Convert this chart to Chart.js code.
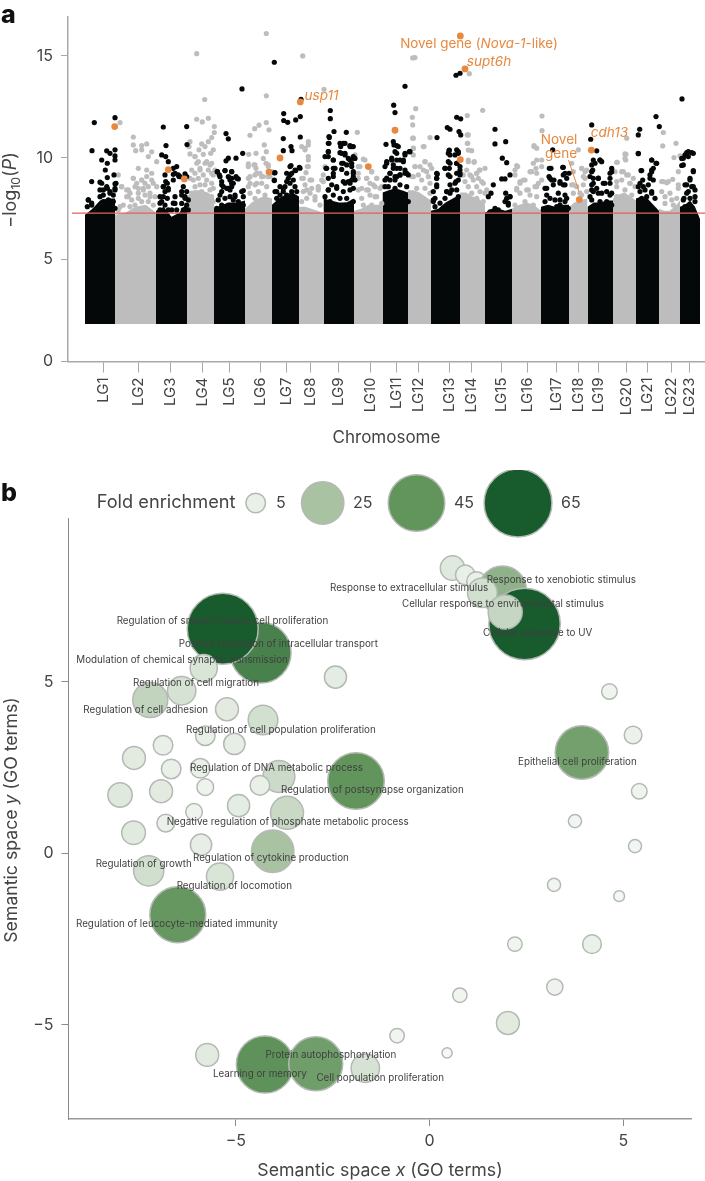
<!DOCTYPE html>
<html><head><meta charset="utf-8">
<style>html,body{margin:0;padding:0;background:#fff;width:705px;height:1181px;overflow:hidden}canvas{position:absolute;left:0}</style>
<script src="https://cdn.jsdelivr.net/npm/chart.js@4"></script>
</head><body>
<canvas id="a" width="705" height="470" style="top:0"></canvas>
<canvas id="b" width="705" height="711" style="top:470px"></canvas>
<script>
const chromLabels=['LG1','LG2','LG3','LG4','LG5','LG6','LG7','LG8','LG9','LG10','LG11','LG12','LG13','LG14','LG15','LG16','LG17','LG18','LG19','LG20','LG21','LG22','LG23'];
const chromTicks=[35.3,70.3,102.7,134.3,161.3,192.3,218.3,242.3,270.7,302,328.3,350.3,381,403.3,433.7,459.7,488.3,510.7,530.3,558,579.3,603.3,621];
const chromEdges=[17,47,88,119,146,177,204,231,255.5,286,314.5,340,363,392,417,444,473,501,519.5,545,568,591,612,632];
const massFloor=1.84;
const chromTops=[[7.2,7.5,7.9,8.0,8.0],[7.2,7.3,7.6,7.7,7.3],[7.4,7.6,7.1,7.3,7.8],[8.1,8.4,8.4,8.3,8.1],[7.5,7.7,7.8,7.8,7.9],[7.5,7.8,8.0,8.1,8.0],[7.7,8.0,8.2,8.3,8.1],[7.6,7.6,7.5,7.4,7.3],[8.0,7.9,7.8,7.8,8.0],[7.4,7.5,7.7,7.7,7.7],[8.3,8.4,8.5,8.4,8.3],[8.4,8.4,8.3,8.1,7.9],[7.4,7.5,7.8,8.0,8.2],[8.3,8.3,8.1,8.0,7.7],[7.3,7.5,7.5,7.4,7.5],[7.5,7.7,7.8,7.7,7.4],[7.6,7.7,7.6,7.7,7.7],[7.6,7.9,8.0],[7.6,7.8,7.8,7.9,7.9],[8.0,8.2,8.3,8.1,7.9],[8.0,8.1,8.0,7.7,7.4],[7.5,7.4,7.4,7.6,7.9],[7.6,7.7,7.9,7.6,7.0]];
const thresholdLine=[[4,7.28],[637,7.28]];
const blackHits=[[26.3,11.73],[47,11.97],[24,10.35],[47,10.39],[38.7,10.34],[42,10.22],[47,10.09],[33.7,9.89],[47,9.89],[39.3,9.73],[37.3,9.4],[46,9.16],[23.7,8.83],[32,8.8],[39.3,9.03],[47,8.72],[39.3,8.5],[32,8.42],[47,8.42],[20.3,7.93],[23.7,7.77],[42,8.26],[35.3,8.17],[32,7.6],[19.3,7.6],
[95.3,11.51],[118.7,11.53],[119,10.65],[98,10.6],[93.7,10.14],[97.7,10.06],[100.3,9.81],[108.7,9.57],[105.3,9.48],[97,9.16],[105.3,9.19],[111,9.08],[117,9.21],[118.7,9.08],[97.7,8.83],[105.3,8.91],[95.3,8.58],[100.3,8.42],[107,8.09],[113.7,8.34],[117,8.09],[95.3,8.09],[105.3,7.77],[92,7.77],
[174,13.38],[158,11.19],[160.3,10.93],[174.7,10.22],[168,9.98],[160.3,9.98],[158,9.85],[149.3,9.32],[157,9.37],[163.7,9.32],[151.3,9.16],[162,9.0],[170.3,8.96],[153.7,8.67],[163.7,8.75],[158.7,8.5],[162,8.42],[175.3,8.39],[153.7,8.34],
[206.3,14.69],[215.7,12.17],[232.3,12.02],[227.7,11.86],[215.7,11.83],[219.7,11.74],[233,12.87],[215.3,10.94],[232.3,11.02],[215.3,10.35],[223,10.55],[224,10.35],[223,9.62],[227.7,9.37],[232,9.49],[206.3,9.26],[206.3,8.88],[222,9.16],[218.7,8.83],[215.3,8.5],[208.7,8.34],
[262.3,12.32],[262.3,11.92],[266,11.29],[261.3,11.0],[278.3,11.25],[260.3,10.71],[275.3,10.71],[282,10.6],[285.3,10.55],[272.7,10.55],[260.3,10.3],[260.3,10.06],[273.7,10.22],[277,10.14],[282,9.89],[285.3,9.98],[258,9.48],[265.3,9.89],[267,9.48],[273.7,9.73],[278.7,9.65],[285.3,9.24],[278.7,9.24],[275.3,8.83],[282,8.75],[265.3,9.08],[260.3,8.42],[268.7,8.58],[285.3,8.5],[283.7,10.55],[285.3,10.06],[283.7,9.73],[285.3,9.32],[283.7,8.91],
[337,13.51],[325.7,12.58],[327,12.22],[318,10.66],[325.3,10.79],[328.7,10.6],[341.3,10.3],[337,10.22],[328.7,10.22],[323.7,9.98],[318.7,9.73],[332,9.89],[325.3,9.65],[335.3,9.81],[328.7,9.48],[337,9.4],[322,9.24],[340.3,9.16],[318.7,9.0],[332,9.16],[327,8.91],
[388,14.05],[392,14.15],[388.7,11.99],[392.7,11.91],[379.3,11.48],[382,11.4],[369,10.99],[391,11.29],[392.7,11.12],[381,10.35],[388.7,10.39],[382,10.14],[390.3,10.22],[380.3,9.81],[388.7,9.73],[381.3,9.48],[377,9.48],[392,9.4],[388.7,9.24],[369.3,9.2],[382,9.08],[368.7,9.0],[392,9.16],[388,8.83],[368.7,8.58],[378.7,8.34],[382,8.26],[365.3,7.93],[372,7.77],
[427,11.4],[427,10.68],[437.7,10.79],[434.3,9.98],[438.7,9.76],[442,9.16],[433.7,8.96],[437,8.96],[425.3,8.67],[423,8.26],[420.3,8.09],[438.7,8.01],[442,8.09],[440.3,7.77],
[484.7,10.39],[495.3,9.53],[483,9.48],[501,9.24],[481,9.08],[495.3,9.16],[483.7,8.91],[492,8.75],[497,8.67],[478.7,8.5],[482,8.01],[498.7,8.01],[492,7.93],[488.7,7.6],
[523.7,11.61],[522.7,10.91],[528.7,10.34],[527,9.73],[532,9.89],[524.7,9.4],[543.7,9.48],[522,9.08],[542,9.24],[530.3,9.0],[525.3,8.75],[535.3,8.75],[542,8.75],[523.7,8.42],[530.3,8.26],[538.7,8.34],[522,8.09],[543.7,8.26],
[588,12.02],[591.3,11.53],[571.7,11.4],[570.3,11.12],[570.3,10.2],[583.7,9.89],[588,9.73],[573,9.37],[583.7,9.4],[582,9.16],[574.7,8.91],[570.3,8.58],[575.3,8.58],[583.7,8.26],[580.3,8.67],
[614,12.89],[623.7,10.25],[618.7,10.25],[620.3,10.06],[615.3,9.98],[613.7,9.62],[625.3,9.32],[622,8.91],[617,8.67],[623.7,8.58],[627,8.09],[618.7,8.26],[615.3,7.93]];
const blackClusters=[[20.3,7.93],[23.7,7.68],[27,7.44],[32,8.09],[35.3,8.42],[38.7,8.58],[42,8.34],[45.3,8.17],[47,8.5],[35.3,7.85],[40.3,7.93],[45.3,7.85],[32,7.68],[37,7.52],[42,7.52],[47,7.52],[33.7,8.75],[48,8.75],
[92,8.09],[95.3,8.58],[97,8.34],[99.3,8.75],[100.3,8.5],[93.7,7.85],[97,7.68],[99.3,8.01],[92,7.44],[95.3,7.35],[100.3,7.44],[107,7.76],[103.7,7.44],[108.7,7.44],[115.3,8.58],[118.7,8.34],[113.7,8.17],[117,8.01],[120.3,7.93],[113.7,7.76],[118.7,7.68],[115.3,7.44],[120.3,7.44],[110.3,9.16],[107,9.24],[112,9.07],
[149.3,9.32],[157,9.37],[152,9.07],[160.3,9.07],[163.7,9.32],[168,9.07],[153.7,8.83],[162,8.91],[155.3,8.58],[160.3,8.5],[165.3,8.75],[152,8.17],[157,8.01],[150.3,7.93],[162,8.09],[167,8.09],[170.3,7.85],[153.7,7.68],[160.3,7.68],[165.3,7.6],[170.3,7.44],[148.7,7.52],
[163.7,8.99],[168.7,8.99],[163.7,8.58],[167,8.17],[173.7,8.34],[175.3,8.09],[165.3,7.93],[175.3,7.68],
[207,9.27],[206.3,8.91],[207,8.34],[212,8.58],[217,8.58],[222,9.57],[227,9.4],[231.3,9.53],[218.7,9.24],[223.7,9.24],[220.3,8.99],[225.3,8.91],[222,8.75],[227,8.58],[215.3,8.34],[212,8.17],[218.7,8.17],[223.7,8.34],[228.7,8.34],[208.7,8.01],[215.3,7.93],
[261,11.04],[261,10.71],[272,10.71],[277,10.71],[282,10.55],[260.3,10.3],[272,10.25],[277,10.22],[280.3,9.97],[287,9.97],[257,10.06],[265.3,9.89],[275.3,9.73],[258.7,9.48],[265.3,9.48],[273.7,9.43],[283.7,9.57],[265.3,9.24],[260.3,8.99],[285.3,9.07],[280.3,8.83],[277,8.75],[287,8.91],[263.7,8.67],[268.7,8.5],[260.3,8.42],[275.3,8.34],[282,8.42],[265.3,8.17],[257,8.09],[272,8.01],[278.7,8.01],[262,7.85],[268.7,7.68],[277,7.68],[285.3,7.85],
[317,9.57],[318.7,9.81],[323.7,9.89],[328.7,9.89],[335.3,9.89],[337,10.14],[342,10.3],[327,10.3],[326,10.63],[330.3,10.55],[322,9.24],[328.7,9.07],[337,9.24],[332,9.48],[325.3,9.48],[338.7,9.24],[317,8.91],[322,8.91],[327,9.07],[332,9.16],[317,8.58],[320.3,8.58],[327,8.5],[332,8.67],[338.7,8.58],[335.3,8.17],[340.3,7.85],
[368.7,9.24],[368.7,8.99],[368.7,8.67],[365.3,8.34],[367,8.01],[365.3,7.85],[367,7.6],[380.3,10.22],[381.3,10.38],[390.3,10.3],[387,10.14],[382,9.73],[388.7,9.73],[377,9.48],[392,9.57],[380.3,9.16],[392,9.24],[390.3,8.91],[387,8.75],[382,8.67],[378.7,8.34],[377,8.01],[383.7,8.42],[388.7,8.42],[390.3,8.09],
[437.7,8.26],[442,8.09],[440.3,7.68],[437,7.85],[427,7.52],[430.3,7.44],[422,7.35],
[481.3,9.48],[494.7,9.53],[482,8.99],[497,9.24],[498.7,8.99],[486,8.91],[485.3,8.67],[492,8.83],[495.3,8.67],[477,8.5],[478.7,8.17],[477,7.85],[490.3,8.26],[497,8.17],[487,7.93],[497,7.85],[492,7.68],[475.3,7.44],[482,7.52],[495.3,7.44],[500.3,7.52],
[525.3,9.89],[532,9.89],[523.7,9.65],[533.7,9.81],[523.7,9.32],[543.7,9.32],[542,8.99],[525.3,8.99],[530.3,8.99],[523.7,8.67],[537,8.75],[528.7,8.5],[525.3,8.34],[542,8.17],[533.7,8.26],[523.7,7.93],[532,7.85],[538.7,7.85],[543.7,7.68],[523.7,7.52],
[570.3,10.22],[583.7,9.89],[588.7,9.73],[585.3,9.48],[583.7,9.32],[573.7,9.37],[582,8.99],[585.3,8.91],[572,8.75],[572,8.34],[583.7,8.34],[577,8.42],[578.7,8.09],[587,8.01],[573.7,8.01],
[620.3,10.3],[625.3,10.22],[617,10.14],[615.3,9.65],[613.7,9.97],[625.3,9.37],[622,8.99],[618.7,8.67],[625.3,8.58],[620.3,8.34],[627,8.42],[616,8.01],[622,8.01],[627,7.85],[617,7.6],[622,7.6]];
const greyHits=[[65.3,11.02],[52,11.73],[65.3,10.63],[73.7,10.6],[78.7,10.68],[67.7,10.35],[73.7,10.39],[83.7,10.29],[80.3,10.06],[88.7,9.81],[70.3,9.48],[78.7,9.4],[65.3,8.99],[83.7,9.24],[73.7,8.91],[60.3,8.42],[67,8.58],[78.7,9.08],[85.3,8.75],[75.3,8.42],[60.3,8.09],[53.7,8.58],[52,7.6],[88.7,8.58],[50.3,9.16],[70.3,8.26],[82,8.09],
[128.7,15.11],[136.7,12.86],[140.3,11.94],[128.7,11.89],[134.3,11.76],[146.3,11.53],[146.3,11.24],[143.7,10.99],[140.3,10.79],[122,10.79],[133.7,10.68],[137,10.55],[121,10.55],[131,10.39],[145.3,10.39],[142.7,10.22],[122,10.19],[127,10.06],[135.3,10.17],[138.7,9.81],[143.7,9.73],[128.7,9.73],[132,9.4],[123.7,9.4],[147,9.4],[145.3,9.16],[122,8.99],
[198.3,16.1],[198.3,13.04],[198.3,11.73],[191,11.6],[186.7,11.43],[201,11.37],[182,11.1],[196.3,10.63],[198.3,10.3],[180.7,10.17],[188,10.22],[180.3,9.7],[186,9.65],[198,9.73],[188,9.48],[200.3,9.57],[180.3,8.99],[187,9.16],[195.3,9.08],[182,8.75],[192,9.24],[202,9.08],[188.7,8.75],
[234.7,15],[256,13.36],[233.7,10.55],[240.3,10.79],[240.3,10.63],[237,10.39],[240.3,9.89],[240.3,9.57],[235.3,8.99],[243.7,8.91],[250.3,8.5],[238.7,8.42],[253.7,8.91],[247,8.09],[257,9.57],
[289.3,11.25],[287,10.14],[297,9.89],[292,9.57],[303.7,9.32],[290.3,9.24],[298.7,8.99],[308.7,8.99],[305.3,8.67],[293.7,8.5],[300.3,8.42],[312,8.5],[307,8.09],
[347,14.92],[344.7,14.9],[347.7,12.41],[344.3,11.99],[344.7,11.61],[344.7,10.96],[362,10.99],[356,10.55],[345.3,10.47],[345.3,10.14],[357,9.81],[347,9.57],[362,9.65],[352,9.57],[358.7,9.32],[350.3,9.16],[343.7,9.08],
[401.3,14.13],[399.3,12.07],[414.7,12.33],[399.3,11.12],[399.3,10.71],[403.7,10.35],[400.3,9.89],[406,9.78],[398.7,9.4],[412,9.4],[408.7,9.24],[403.7,9.08],[415.3,8.75],[410.3,8.99],[418.7,8.42],
[474,12.05],[474,11.33],[466,10.6],[468.7,10.47],[448.7,9.62],[473.7,9.89],[465.3,9.73],[473.7,9.57],[463.7,9.32],[468.7,9.24],[447,9.4],[455.3,8.91],[452,8.75],[468.7,8.58],[460.3,8.42],[448.7,8.42],[473.7,8.91],
[510.3,10.39],[503.7,9.73],[513.7,9.48],[518.7,9.4],[503.7,8.67],[508.7,8.58],[515.3,9.08],[512,8.26],
[558.7,10.96],[558,10.17],[548.7,9.78],[557.7,9.89],[553.7,9.32],[558.7,9.16],[565.3,8.99],[548.7,8.83],[562,8.75],[547,9.32],
[595.3,11.24],[594.7,10.58],[608,10.71],[606,10.01],[612,10.1],[610.3,9.32],[593.7,8.83],[598.7,8.78],[604.7,8.94],[610.3,8.67],[597,8.09],[603.7,7.93]];
const greyClusters=[[58.7,8.42],[62,8.26],[65.3,8.99],[68.7,8.75],[73.7,8.91],[77,8.75],[70.3,8.5],[75.3,8.5],[80.3,8.58],[83.7,8.91],[58.7,8.09],[63.7,7.93],[70.3,8.01],[77,8.17],[82,8.26],[87,8.09],[55.3,7.68],[62,7.6],[67,7.68],[73.7,7.85],[80.3,7.85],[85.3,7.68],[50.3,7.44],[53.7,8.58],
[127,10.06],[130.3,9.81],[137,9.73],[142,9.65],[127,9.24],[132,9.48],[140.3,9.4],[143.7,9.24],[125.3,8.91],[130.3,8.99],[135.3,9.16],[138.7,8.91],[143.7,8.75],[127,8.58],[132,8.67],[137,8.67],[142,8.42],[145.3,8.5],[123.7,8.26],[128.7,8.26],[133.7,8.34],[138.7,8.17],[143.7,8.09],[125.3,7.85],[130.3,7.93],[135.3,7.93],[140.3,7.85],[145.3,7.85],
[180.3,9.57],[187,9.65],[195.3,9.97],[200.3,9.65],[203.7,9.32],[182,9.07],[188.7,9.24],[193.7,9.07],[200.3,9.07],[180.3,8.58],[187,8.67],[193.7,8.75],[198.7,8.58],[182,8.26],[190.3,8.34],[197,8.17],[187,8.01],[193.7,7.93],
[237,10.46],[240.3,10.06],[239.3,9.57],[238,9.27],[233.7,8.99],[242,8.91],[237,8.67],[243.7,8.5],[235.3,8.34],[242,8.26],[250.3,8.58],[250.3,8.42],[255.3,9.16],[255.3,8.83],[238.7,8.01],[247,7.93],[252,7.68],[233.7,7.85],
[290.3,9.57],[295.3,9.93],[303.7,9.32],[298.7,8.99],[308.7,8.99],[290.3,8.99],[302,8.75],[290.3,8.42],[298.7,8.42],[307,8.58],[313.7,8.58],[293.7,8.01],[302,8.17],[308.7,8.09],[313.7,7.76],[295.3,7.68],[303.7,7.68],
[345.3,10.96],[345.3,10.46],[355.3,10.55],[357,9.81],[347,9.57],[355.3,9.4],[363.7,9.48],[360.3,9.07],[345.3,9.07],[353.7,8.91],[362,8.75],[348.7,8.5],[357,8.5],[362,8.26],
[400.3,11.12],[399.7,10.71],[400.3,10.38],[400.3,9.81],[406.3,9.81],[417,9.48],[411.3,9.4],[408.7,9.24],[395.3,9.16],[402,9.16],[397,8.83],[405.3,8.91],[413.7,8.83],[400.3,8.58],[408.7,8.58],[403.7,8.26],[412,8.34],[417,8.26],[408.7,8.01],[415.3,7.85],
[449.7,9.57],[447,9.16],[452,8.83],[457,8.91],[462,9.32],[468,9.48],[466,10.55],[468.7,9.89],[458.7,8.42],[467,8.58],[470.3,8.75],[448.7,8.5],[452,8.26],[462,8.17],[468.7,8.09],[447,7.68],[457,7.85],[465.3,7.68],
[505.3,9.32],[513.7,9.48],[517,9.32],[505.3,8.67],[517,8.99],[515.3,8.67],[505.3,8.26],[518.7,8.34],[513.7,8.17],[507,7.68],
[549.3,9.78],[557,10.19],[557,9.97],[555.3,9.32],[560.3,9.16],[553.7,8.91],[562,8.75],[548.7,8.58],[567,8.58],[557,8.42],[563.7,8.17],[548.7,8.09],[553.7,7.85],[563.7,7.68],
[595.3,8.83],[600.3,8.83],[593.7,8.34],[602,8.26],[610.3,8.5],[608.7,8.01],[597,7.76],[605.3,7.68]];
const orangeHits=[[46.7,11.53],[100.3,9.42],[116.3,8.96],[201,9.3],[212,9.99],[232.3,12.74],[300.3,9.57],[327,11.35],[392.3,15.98],[397,14.36],[392.3,9.91],[511.3,7.95],[523.3,10.38]];

const goX=[-5.74,-4.36,-5.34,-5.83,-6.40,-7.21,-5.23,-2.43,-4.30,-5.79,-5.04,-6.88,-7.63,-6.67,-5.92,-3.89,-1.90,-4.38,-6.93,-5.79,-7.99,-4.93,-3.68,-6.08,-6.81,-7.64,-5.90,-4.05,-7.25,-5.41,-6.50,0.59,0.92,1.21,1.88,1.36,2.45,1.95,4.64,3.93,5.25,5.41,3.75,5.30,3.21,4.89,2.20,4.19,3.23,0.78,2.02,-0.84,0.45,-4.25,-2.94,-1.66];
const goY=[-5.88,5.85,6.55,5.40,4.74,4.47,4.20,5.14,3.89,3.43,3.19,3.15,2.78,2.46,2.48,2.24,2.11,1.98,1.81,1.93,1.70,1.39,1.18,1.21,0.88,0.60,0.25,0.06,-0.51,-0.68,-1.79,8.32,8.12,7.93,7.68,7.60,6.69,7.04,4.72,2.94,3.45,1.81,0.94,0.21,-0.92,-1.25,-2.65,-2.65,-3.90,-4.14,-4.95,-5.32,-5.82,-6.16,-6.14,-6.27];
const goFold=[7,52,71,10,11,17,7,6.5,12,5,6,5,7,5,5,14,45,5,7,3.5,8,6.5,15,3.5,4,7.5,6,25,12.5,10,44,8,5,5,32,12,72,16,3,40,4,3,2,2,2,1.2,2.5,4.5,3.3,2.5,7,2.5,1,46,41,11];
const legendFolds=[5,25,45,65];
const xTicksB=[-5,0,5], yTicksB=[-5,0,5], yTicksA=[0,5,10,15];

const FONT='Inter, "Noto Sans", sans-serif';
const TXT='#444';
const ORANGE='#E8883F';
const radiusOf=f=>Math.sqrt(8+17.6*f);
const stops=[[1,[245,248,245]],[5,[233,240,232]],[25,[168,194,162]],[45,[98,149,92]],[65,[24,92,45]]];
function colourOf(f){
  if(f>=65)return 'rgb(24,92,45)';
  for(let i=1;i<stops.length;i++){ if(f<=stops[i][0]){
    const t=(f-stops[i-1][0])/(stops[i][0]-stops[i-1][0]);
    const c=stops[i-1][1].map((v,k)=>Math.round(v+(stops[i][1][k]-v)*Math.max(t,0)));
    return `rgb(${c})`; } }
}
function rich(ctx,segs,cx,cy,size,rot,colour){
  ctx.save();ctx.translate(cx,cy);if(rot)ctx.rotate(rot);
  ctx.textBaseline='middle';ctx.textAlign='left';ctx.fillStyle=colour;
  const fontOf=s=>`${s.i?'italic ':''}${s.sub?size*0.68:size}px ${FONT}`;
  let w=0;segs.forEach(s=>{ctx.font=fontOf(s);s.w=ctx.measureText(s.t).width;w+=s.w;});
  let x=-w/2;segs.forEach(s=>{ctx.font=fontOf(s);ctx.fillText(s.t,x,s.sub?size*0.28:0);x+=s.w;});
  ctx.restore();
}
const toPts=a=>a.map(p=>({x:p[0],y:p[1]}));
const noPadH=s=>{s.paddingLeft=0;s.paddingRight=0;};
const noPadV=s=>{s.paddingTop=0;s.paddingBottom=0;};
const massSets=chromTops.map((tops,i)=>({
  type:'line',order:5,pointRadius:0,borderWidth:0,tension:0,
  backgroundColor:i%2?'#BDBDBD':'#050808',
  fill:{value:massFloor},
  data:tops.map((y,k)=>({x:chromEdges[i]+(chromEdges[i+1]-chromEdges[i])*k/(tops.length-1),y}))
}));
const panelA={id:'panelA',afterDraw(c){
  const x=c.ctx;
  x.save();x.textBaseline='middle';x.textAlign='left';
  x.fillStyle='#111';x.font=`800 25px ${FONT}`;x.fillText('a',1,15);
  rich(x,[{t:'−log'},{t:'10',sub:1},{t:'('},{t:'P',i:1},{t:')'}],11,190,18,-Math.PI/2,TXT);
  rich(x,[{t:'Novel gene ('},{t:'Nova-1',i:1},{t:'-like)'}],479,43.5,13.4,0,ORANGE);
  rich(x,[{t:'supt6h',i:1}],489,62,13.6,0,ORANGE);
  rich(x,[{t:'usp11',i:1}],321.5,96,13.6,0,ORANGE);
  rich(x,[{t:'Novel'}],559,140,13.6,0,ORANGE);
  rich(x,[{t:'gene'}],561,154,13.6,0,ORANGE);
  rich(x,[{t:'cdh13',i:1}],609.5,132.5,13.6,0,ORANGE);
  x.strokeStyle=ORANGE;x.lineWidth=1;x.beginPath();x.moveTo(568.5,160);x.lineTo(579,191.5);x.stroke();
  x.restore();
}};
new Chart(document.getElementById('a'),{type:'line',
 data:{datasets:[
  {label:'Top hits',order:0,data:toPts(orangeHits),showLine:false,pointRadius:3.4,pointBackgroundColor:ORANGE,pointBorderWidth:0},
  {label:'Threshold',order:1,data:toPts(thresholdLine),borderColor:'#E4605C',borderWidth:1.3,pointRadius:0},
  {label:'Odd',order:2,data:toPts(blackHits.concat(blackClusters)),showLine:false,pointRadius:2.6,pointBackgroundColor:'#050808',pointBorderWidth:0},
  {label:'Even',order:3,data:toPts(greyHits.concat(greyClusters)),showLine:false,pointRadius:2.6,pointBackgroundColor:'#BDBDBD',pointBorderWidth:0},
  ...massSets]},
 plugins:[panelA],
 options:{responsive:false,animation:false,devicePixelRatio:1,
  layout:{autoPadding:false,padding:{left:0,right:0,top:17,bottom:22}},
  plugins:{legend:{display:false},tooltip:{enabled:false}},
  scales:{
   x:{type:'linear',min:0,max:637,
     afterBuildTicks:a=>{a.ticks=chromTicks.map(v=>({value:v}));},
     afterFit:s=>{s.height=86.5;noPadH(s);},
     grid:{drawOnChartArea:false,color:'#A8A8A8',tickLength:11,lineWidth:1},
     border:{color:'#A8A8A8',width:1.5},
     title:{display:true,text:'Chromosome',color:TXT,font:{family:FONT,size:17},padding:0},
     ticks:{autoSkip:false,minRotation:90,maxRotation:90,padding:5,color:TXT,font:{family:FONT,size:15},callback:(v,i)=>chromLabels[i]}},
   y:{type:'linear',min:0,max:16.91,
     afterBuildTicks:a=>{a.ticks=yTicksA.map(v=>({value:v}));},
     afterFit:s=>{s.width=68;noPadV(s);},
     grid:{drawOnChartArea:false,color:'#A8A8A8',tickLength:7,lineWidth:1},
     border:{color:'#A8A8A8',width:1.5},
     ticks:{padding:8,color:TXT,font:{family:FONT,size:16}}}
  }}});

const goLabels=[['Regulation of smooth muscle cell proliferation',116.7,620.7],['Positive regulation of intracellular transport',178.7,644],['Modulation of chemical synaptic transmission',76.3,659.7],['Regulation of cell migration',133,682.7],['Regulation of cell adhesion',83.3,710],['Regulation of cell population proliferation',186,730.3],['Regulation of DNA metabolic process',190,768],['Regulation of postsynapse organization',281,790],['Negative regulation of phosphate metabolic process',166.7,822],['Regulation of cytokine production',193,858],['Regulation of growth',95.7,864],['Regulation of locomotion',176.7,886],['Regulation of leucocyte-mediated immunity',76,924],['Response to extracellular stimulus',330,588],['Response to xenobiotic stimulus',486.7,580],['Cellular response to environmental stimulus',402,603.7],['Cellular response to UV',483,633],['Epithelial cell proliferation',518,762],['Protein autophosphorylation',265.6,1054.7],['Learning or memory',213,1073.7],['Cell population proliferation',316.4,1078.3]];
const legendLayout=[[255.7,276],[322.7,353],[416.5,454],[518,561]];
const panelB={id:'panelB',afterDraw(c){
  const x=c.ctx,T=470;
  x.save();x.textBaseline='middle';x.textAlign='left';
  x.fillStyle='#111';x.font=`800 25px ${FONT}`;x.fillText('b',1,493-T);
  x.fillStyle=TXT;x.font=`18.2px ${FONT}`;x.fillText('Fold enrichment',96.7,502.5-T);
  legendFolds.forEach((f,i)=>{
    x.beginPath();x.arc(legendLayout[i][0],503-T,radiusOf(f),0,Math.PI*2);
    x.fillStyle=colourOf(f);x.fill();x.strokeStyle='#B4B9B4';x.lineWidth=1.5;x.stroke();
    x.fillStyle=TXT;x.font=`16px ${FONT}`;x.fillText(String(f),legendLayout[i][1],503-T);
  });
  x.fillStyle='#3f3f3f';x.font=`9.8px ${FONT}`;
  goLabels.forEach(l=>x.fillText(l[0],l[1],l[2]-T));
  rich(x,[{t:'Semantic space '},{t:'x',i:1},{t:' (GO terms)'}],380,1170.5-T,17.7,0,TXT);
  rich(x,[{t:'Semantic space '},{t:'y',i:1},{t:' (GO terms)'}],12,820-T,17.7,-Math.PI/2,TXT);
  x.restore();
}};
new Chart(document.getElementById('b'),{type:'bubble',
 data:{datasets:[{label:'GO terms',
   data:goX.map((v,i)=>({x:v,y:goY[i],r:radiusOf(goFold[i])})),
   backgroundColor:goFold.map(colourOf),borderColor:'#B4B9B4',borderWidth:1.5}]},
 plugins:[panelB],
 options:{responsive:false,animation:false,devicePixelRatio:1,
  layout:{autoPadding:false,padding:{left:0,right:14,top:48,bottom:0}},
  plugins:{legend:{display:false},tooltip:{enabled:false}},
  scales:{
   x:{type:'linear',min:-9.32,max:6.745,
     afterBuildTicks:a=>{a.ticks=xTicksB.map(v=>({value:v}));},
     afterFit:s=>{s.height=62;noPadH(s);},
     grid:{drawOnChartArea:false,color:'#8a8a8a',tickLength:7,lineWidth:1},
     border:{color:'#9a9a9a',width:1.5},
     ticks:{padding:6,color:TXT,font:{family:FONT,size:16},callback:v=>String(v).replace('-','−')}},
   y:{type:'linear',min:-7.75,max:9.78,
     afterBuildTicks:a=>{a.ticks=yTicksB.map(v=>({value:v}));},
     afterFit:s=>{s.width=68.5;noPadV(s);},
     grid:{drawOnChartArea:false,color:'#8a8a8a',tickLength:7,lineWidth:1},
     border:{color:'#8a8a8a',width:1},
     ticks:{padding:8,color:TXT,font:{family:FONT,size:16},callback:v=>String(v).replace('-','−')}}
  }}});
</script>
</body></html>
